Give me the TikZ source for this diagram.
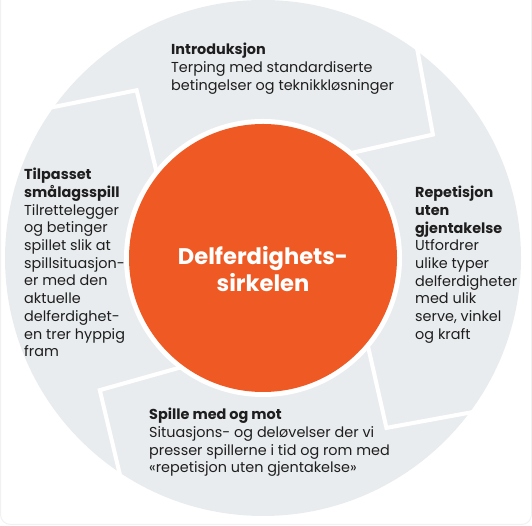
\documentclass[tikz,border=0pt]{standalone}
\usepackage{fontspec}
\setmainfont{Poppins}
\usetikzlibrary{calc}
\definecolor{ring}{HTML}{E9ECEE}
\definecolor{orng}{HTML}{EF5A24}
\definecolor{txt}{HTML}{1E1E1E}
\definecolor{frame}{HTML}{F1F1F1}
\begin{document}
\begin{tikzpicture}[x=1pt,y=1pt,
  sepline/.style={draw=white, line width=4pt, line join=miter},
  body/.style={anchor=north west, inner sep=0pt, align=left, text=txt,
    font=\fontsize{14.4}{17.7}\selectfont},
  hub/.style={circle, fill=orng, minimum size=268pt, inner sep=0pt},
  hubtext/.style={align=center, text=white, inner sep=0pt,
    font=\fontsize{22.6}{27}\selectfont\bfseries}]
\useasboundingbox (0,0) rectangle (532,526);
\draw[frame, line width=1pt, rounded corners=10pt] (0.5,1.5) rectangle (531.5,540);
\coordinate (c) at (263,268);
\fill[ring] (c) circle (258);
% separators (chevrons)
\foreach \t in {141,50,-40,-127}{
  \draw[sepline] ($(c)+(\t:137)$) -- ($(c)+(\t-14:210)$) -- ($(c)+(\t+5:266)$);
}
\fill[white] (c) circle (139);
\node[hub] (hubc) at (c) {};
\node[hubtext] (hubt) at (263,257) {Delferdighets-\\sirkelen};
\node[body] (top) at (171,483) {\textbf{Introduksjon}\\Terping med standardiserte\\betingelser og teknikkløsninger};
\node[body] (left) at (24,358) {\textbf{Tilpasset}\\\textbf{smålagsspill}\\Tilrettelegger\\og betinger\\spillet slik at\\spillsituasjon-\\er med den\\aktuelle\\delferdighet-\\en trer hyppig\\fram};
\node[body] (right) at (415,340) {\textbf{Repetisjon}\\\textbf{uten}\\\textbf{gjentakelse}\\Utfordrer\\ulike typer\\delferdigheter\\med ulik\\serve, vinkel\\og kraft};
\node[body] (bottom) at (149,118) {\textbf{Spille med og mot}\\Situasjons- og deløvelser der vi\\presser spillerne i tid og rom med\\«repetisjon uten gjentakelse»};
\end{tikzpicture}
\end{document}
